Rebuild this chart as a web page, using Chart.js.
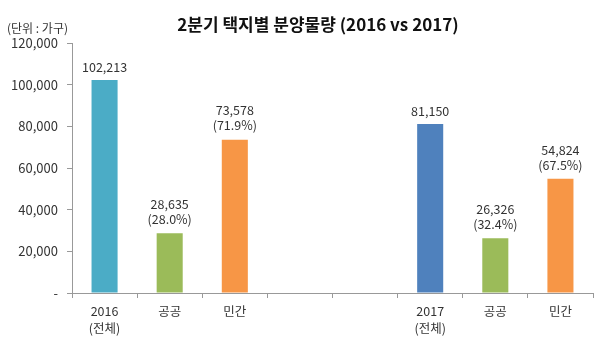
<!DOCTYPE html>
<html>
<head>
<meta charset="utf-8">
<script src="https://cdn.jsdelivr.net/npm/chart.js@4/dist/chart.umd.min.js"></script>
<style>
  html,body {margin:0; padding:0; background:#fff;}
  #wrap {width:600px; height:347px;}
</style>
</head>
<body>
<div id="wrap"><canvas id="chart1canvas" width="600" height="347"></canvas></div>
<script>
/* Data */
const categories=[["2016","(전체)"],"공공","민간","","",["2017","(전체)"],"공공","민간"];
const values=[102213,28635,73578,null,null,81150,26326,54824];
const shares=[null,"(28.0%)","(71.9%)",null,null,null,"(32.4%)","(67.5%)"];
const barColors=["#4BACC6","#9BBB59","#F79646","#fff","#fff","#4F81BD","#9BBB59","#F79646"];
const titleText="2분기 택지별 분양물량 (2016 vs 2017)";
const unitText="(단위 : 가구)";

const fontFamily="'Noto Sans CJK KR', 'Noto Sans', sans-serif";
const textColor="#333";

/* Title, unit and value labels */
const labelPlugin={
  id: 'labelPlugin',
  afterDatasetsDraw(chart) {
    const ctx=chart.ctx;
    ctx.save();
    ctx.fillStyle=textColor;
    ctx.textAlign="center";
    ctx.textBaseline="middle";
    ctx.font="12.5px "+fontFamily;
    const meta=chart.getDatasetMeta(0);
    meta.data.forEach((bar,i)=>{
      if (values[i]==null) return;
      const txt=values[i].toLocaleString("en-US");
      if (shares[i]!=null) {
        ctx.fillText(txt,bar.x,bar.y-29);
        ctx.fillText(shares[i],bar.x,bar.y-14);
      } else {
        ctx.fillText(txt,bar.x,bar.y-13);
      }
    });
    /* Title */
    ctx.font="bold 17px "+fontFamily;
    ctx.fillStyle="#111";
    ctx.fillText(titleText,318,25);
    /* Unit */
    ctx.font="12px "+fontFamily;
    ctx.fillStyle=textColor;
    ctx.textAlign="left";
    ctx.fillText(unitText,7,28);
    ctx.restore();
  }
};

new Chart(chart1canvas,{
  type: 'bar',
  data: {
    labels: categories,
    datasets: [{data: values, backgroundColor: barColors, barPercentage: 0.4, categoryPercentage: 1}]
  },
  options: {
    responsive: false,
    animation: false,
    layout: {padding: {top: 43, right: 7, left: 0, bottom: 0}},
    plugins: {legend: {display: false}, tooltip: {enabled: false}},
    scales: {
      x: {
        grid: {offset: true, drawOnChartArea: false, drawTicks: true, tickLength: 5, color: "#999"},
        border: {color: "#999"},
        ticks: {color: textColor, font: {family: fontFamily, size: 12.5, lineHeight: 1.4}, padding: 4, maxRotation: 0, autoSkip: false},
        afterFit: axis=>{axis.height=54;}
      },
      y: {
        min: 0, max: 120000,
        grid: {drawOnChartArea: false, drawTicks: true, tickLength: 5, color: "#999"},
        border: {color: "#999"},
        ticks: {stepSize: 20000, color: textColor, font: {family: fontFamily, size: 13}, padding: 9,
          callback: value=>value==0?"-":value.toLocaleString("en-US")},
        afterFit: axis=>{axis.width=72;}
      }
    }
  },
  plugins: [labelPlugin]
});
</script>
</body>
</html>
